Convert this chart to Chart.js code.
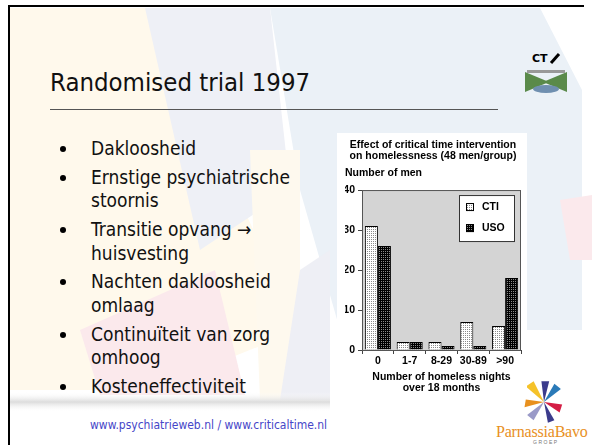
<!DOCTYPE html>
<html>
<head>
<meta charset="utf-8">
<script src="https://cdn.jsdelivr.net/npm/chart.js@4"></script>
<style>
  body { margin: 0; width: 592px; height: 445px; overflow: hidden; background: #fff; position: relative; font-family: "DejaVu Sans Condensed", "DejaVu Sans", sans-serif; }
  #bg { position: absolute; left: 0; top: 0; }
  #frame { position: absolute; left: 8px; top: 5px; width: 574px; height: 450px; border-top: 2px solid #000; border-left: 2px solid #000; }
  #title { position: absolute; left: 50px; top: 67px; font-size: 25.5px; color: #111; white-space: nowrap; }
  #rule { position: absolute; left: 50px; top: 109px; width: 448px; height: 1px; background: #555; }
  ul { position: absolute; left: 91px; top: 137px; margin: 0; padding: 0; list-style: none; font-size: 19px; line-height: 23.5px; color: #111; }
  li { position: relative; margin-bottom: 5.3px; }
  li::before { content: ""; position: absolute; left: -31px; top: 9px; width: 6px; height: 6px; border-radius: 50%; background: #000; }
  #footer { position: absolute; left: 90px; top: 418px; font-size: 12px; color: #4646c8; white-space: nowrap; }
  #panel { position: absolute; left: 337px; top: 133px; width: 190px; height: 260px; background: #fff; }
  #wrap { position: absolute; left: 341px; top: 133px; width: 186px; height: 260px; }
  #brand { position: absolute; left: 496px; top: 423px; font-family: "Liberation Serif", serif; font-size: 16px; color: #e8901e; white-space: nowrap; letter-spacing: -0.2px; }
  #groep { position: absolute; left: 533px; top: 439px; font-size: 5px; letter-spacing: 1.5px; color: #777; font-family: "Liberation Sans", sans-serif; }
</style>
</head>
<body>
<svg id="bg" width="592" height="445">
  <defs>
    <linearGradient id="shade" x1="0" y1="0" x2="0" y2="1">
      <stop offset="0" stop-color="#fff" stop-opacity="0"/>
      <stop offset="0.5" stop-color="#dcdcdc"/>
      <stop offset="1" stop-color="#fff" stop-opacity="0"/>
    </linearGradient>
  </defs>
  <polygon points="10,8 150,8 300,330 150,390 10,390" fill="#fff9ec"/>
  <polygon points="145,8 270,8 290,190 200,250" fill="#eef0f6"/>
  <polygon points="270,8 540,8 582,90 582,330 340,330 300,190" fill="#ebf1f7"/>
  <polygon points="250,150 300,150 300,400 260,400" fill="#fef9ee"/>
  <polygon points="80,330 215,270 245,395 100,395" fill="#fbe9ec"/>
  <polygon points="300,270 330,250 330,400 280,400" fill="#eeeff5"/>
  <polygon points="560,200 592,195 592,260 570,260" fill="#fbe9ec"/>
  <rect x="10" y="392" width="320" height="20" fill="url(#shade)"/>
  <!-- CTI bridge logo -->
  <text x="532" y="62" font-family="DejaVu Sans" font-weight="bold" font-size="11" fill="#000">CT</text>
  <line x1="551" y1="63" x2="559" y2="54" stroke="#000" stroke-width="3"/>
  <polygon points="525,72 549,82 525,92" fill="#5a8a4a"/>
  <polygon points="567,72 543,82 567,92" fill="#5a8a4a"/>
  <rect x="527" y="70" width="38" height="3" fill="#999"/>
  <ellipse cx="546" cy="89" rx="13" ry="4" fill="#6f8fb0"/>
  <!-- Parnassia star -->
  <g transform="translate(544,402) scale(1.3)">
    <polygon points="0,0 -14,-12 -8,-16" fill="#f5c22a"/>
    <polygon points="0,0 -2,-16 4,-16" fill="#3b3b8c"/>
    <polygon points="0,0 8,-14 13,-10" fill="#2a7ab8"/>
    <polygon points="0,0 14,2 12,8" fill="#d41e45"/>
    <polygon points="0,0 8,14 3,16" fill="#3b3b8c"/>
    <polygon points="0,0 -8,14 -13,10" fill="#9a9ac8"/>
    <polygon points="0,0 -15,4 -14,-2" fill="#e8901e"/>
  </g>
</svg>
<div id="frame"></div>
<div id="title">Randomised trial 1997</div>
<div id="rule"></div>
<ul>
  <li>Dakloosheid</li>
  <li>Ernstige psychiatrische<br>stoornis</li>
  <li>Transitie opvang &#8594;<br>huisvesting</li>
  <li>Nachten dakloosheid<br>omlaag</li>
  <li>Continuïteit van zorg<br>omhoog</li>
  <li>Kosteneffectiviteit</li>
</ul>
<div id="footer">www.psychiatrieweb.nl / www.criticaltime.nl</div>
<div id="brand">ParnassiaBavo</div>
<div id="groep">GROEP</div>
<div id="panel"></div>
<div id="wrap"><canvas id="grafico"></canvas></div>
<script>
const categorias = ["0", "1-7", "8-29", "30-89", ">90"];
const ctiValores = [31, 2, 2, 7, 6];
const usoValores = [26, 2, 1, 1, 18];
const yTicks = [0, 10, 20, 30, 40];

const fonte = { family: "'Liberation Sans', Arial, sans-serif", weight: "bold", size: 10.5 };

// pontinhos tipo impressora antiga
function padrao(fundo, ponto) {
  const c = document.createElement("canvas");
  c.width = 2; c.height = 2;
  const g = c.getContext("2d");
  g.fillStyle = fundo; g.fillRect(0, 0, 2, 2);
  g.fillStyle = ponto; g.fillRect(0, 0, 1, 1);
  return g.createPattern(c, "repeat");
}

const fundoPlot = {
  id: "fundoPlot",
  beforeDatasetsDraw(chart) {
    const a = chart.chartArea, ctx = chart.ctx;
    ctx.save();
    ctx.fillStyle = "#d4d4d4";
    ctx.fillRect(a.left, a.top, a.right - a.left, a.bottom - a.top);
    ctx.restore();
  },
  afterDatasetsDraw(chart) {
    const a = chart.chartArea, ctx = chart.ctx;
    ctx.save();
    ctx.strokeStyle = "#555";
    ctx.lineWidth = 1;
    ctx.strokeRect(a.left + 0.5, a.top + 0.5, a.right - a.left - 1, a.bottom - a.top);
    // legenda dentro do grafico
    const x = a.right - 62, y = a.top + 5, w = 55, h = 46;
    ctx.fillStyle = "#fff";
    ctx.fillRect(x, y, w, h);
    ctx.strokeStyle = "#333";
    ctx.strokeRect(x + 0.5, y + 0.5, w, h);
    chart.data.datasets.forEach((ds, i) => {
      const cy = y + 12 + i * 21;
      ctx.fillStyle = ds.backgroundColor;
      ctx.fillRect(x + 7, cy - 4, 8, 8);
      ctx.strokeStyle = "#000";
      ctx.strokeRect(x + 7.5, cy - 3.5, 7, 7);
      ctx.fillStyle = "#000";
      ctx.font = "bold 10.5px 'Liberation Sans', Arial, sans-serif";
      ctx.textBaseline = "middle";
      ctx.fillText(ds.label, x + 23, cy + 0.5);
    });
    ctx.restore();
  }
};

document.addEventListener("DOMContentLoaded", () => {
  const ctx = document.getElementById("grafico").getContext("2d");
  window.barChart = new Chart(ctx, {
    type: "bar",
    data: {
      labels: categorias,
      datasets: [
        { label: "CTI", data: ctiValores, backgroundColor: padrao("#ffffff", "#8a8a8a"), borderColor: "#000", borderWidth: 1 },
        { label: "USO", data: usoValores, backgroundColor: padrao("#000000", "#8a8a8a"), borderColor: "#000", borderWidth: 1 }
      ]
    },
    options: {
      responsive: true,
      maintainAspectRatio: false,
      animation: false,
      layout: { padding: { left: 4, right: 6, top: 0, bottom: 0 } },
      datasets: { bar: { categoryPercentage: 0.82, barPercentage: 1 } },
      plugins: {
        legend: { display: false },
        tooltip: { enabled: false },
        title: {
          display: true,
          text: ["Effect of critical time intervention", "on homelessness (48 men/group)"],
          color: "#000", font: { ...fonte, lineHeight: 1.05 },
          padding: { top: 6.5, bottom: 2 }
        },
        subtitle: {
          display: true, align: "start",
          text: "Number of men",
          color: "#000", font: { ...fonte, lineHeight: 1.2 },
          padding: { top: 3.2, bottom: 10.7 }
        }
      },
      scales: {
        x: {
          grid: { display: true, drawOnChartArea: false, offset: true, tickLength: 4, color: "#444" },
          border: { color: "#444" },
          ticks: { color: "#000", font: fonte, padding: 1, maxRotation: 0 },
          title: {
            display: true, text: ["Number of homeless nights", "over 18 months"],
            color: "#000", font: { ...fonte, lineHeight: 1.0 }, padding: { top: 2, bottom: 0 }
          },
          afterFit: s => { s.height = 43; }
        },
        y: {
          min: 0, max: 40,
          afterBuildTicks: s => { s.ticks = yTicks.map(v => ({ value: v })); },
          grid: { display: true, drawOnChartArea: false, tickLength: 4, color: "#444" },
          border: { color: "#444" },
          ticks: { color: "#000", font: fonte, padding: 3 },
          afterFit: s => { s.width = 17; }
        }
      }
    },
    plugins: [fundoPlot]
  });
});
</script>
</body>
</html>
